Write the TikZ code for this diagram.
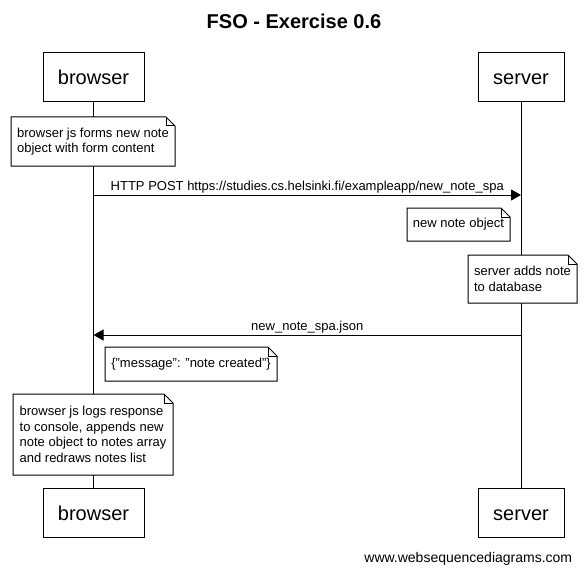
\documentclass[tikz,border=0pt]{standalone}
\usepackage{fontspec}
\setmainfont{Liberation Sans}
\usetikzlibrary{arrows.meta}

\tikzset{
  actor/.style={draw, minimum height=49pt, inner sep=0pt,
    font=\fontsize{20}{24}\selectfont, text height=14.6pt, text depth=0pt},
  note/.style={inner sep=0pt, outer sep=0pt, align=left,
    font=\fontsize{13}{15.5}\selectfont},
  msg/.style={-{Triangle[length=10pt,width=11pt]}},
  msglabel/.style={above, inner sep=1.5pt, font=\fontsize{13}{15.5}\selectfont},
}
\newcommand{\foldnote}[1]{%
  \filldraw[fill=white] (#1.north west) -- ([xshift=-9pt]#1.north east)
    -- ([yshift=-9pt]#1.north east) -- (#1.south east) -- (#1.south west) -- cycle;
  \draw ([xshift=-9pt]#1.north east) |- ([yshift=-9pt]#1.north east);
}

\begin{document}
\begin{tikzpicture}[x=1pt, y=-1pt, line width=1pt]
		 \useasboundingbox (0,0) rectangle (585,572);
		 
		 % Title
		 \draw (294,29) node[anchor=base, font=\bfseries\fontsize{20}{24}\selectfont] (title) {FSO - Exercise 0.6};
		 
		 % Draw the participants
		 \draw (93.5,77.5) node[actor, minimum width=101pt] (browser) {browser};
		 \draw (521,77.5) node[actor, minimum width=86pt] (server) {server};
		 \draw (93.5,513) node[actor, minimum width=101pt] (browser2) {browser};
		 \draw (521,513) node[actor, minimum width=86pt] (server2) {server};
		 \draw (browser) -- (browser2);
		 \draw (server) -- (server2);
		 
		 % Messages
		 \coordinate (post-b) at (93.5,195);
		 \coordinate (post-s) at (521,195);
		 \draw[msg] (post-b) -- node[msglabel] (postlabel) {HTTP POST https://studies.cs.helsinki.fi/exampleapp/new\_note\_spa} (post-s);
		 \coordinate (json-s) at (521,335);
		 \coordinate (json-b) at (93.5,335);
		 \draw[msg] (json-s) -- node[msglabel] (jsonlabel) {new\_note\_spa.json} (json-b);
		 
		 % Notes
		 \path (93,141.5) node[note, minimum width=164pt, minimum height=49pt] (formnote) {};
		 \foldnote{formnote}
		 \draw (formnote) node[note] {browser js forms new note\\object with form content};
		 \path (458.5,224.5) node[note, minimum width=103pt, minimum height=33pt] (objnote) {};
		 \foldnote{objnote}
		 \draw (objnote) node[note] {new note object};
		 \path (522.5,279) node[note, minimum width=109pt, minimum height=48pt] (dbnote) {};
		 \foldnote{dbnote}
		 \draw (dbnote) node[note] {server adds note\\to database};
		 \path (191,364) node[note, minimum width=172pt, minimum height=34pt] (msgnote) {};
		 \foldnote{msgnote}
		 \draw (msgnote) node[note] {\{"message": "note created"\}};
		 \path (93,434.5) node[note, minimum width=160pt, minimum height=81pt] (lognote) {};
		 \foldnote{lognote}
		 \draw (lognote) node[note] {browser js logs response\\to console, appends new\\note object to notes array\\and redraws notes list};
		 
		 % Footer
		 \draw (576,562) node[anchor=base east, font=\fontsize{14}{17}\selectfont] (footer) {www.websequencediagrams.com};
	\end{tikzpicture}
\end{document}
